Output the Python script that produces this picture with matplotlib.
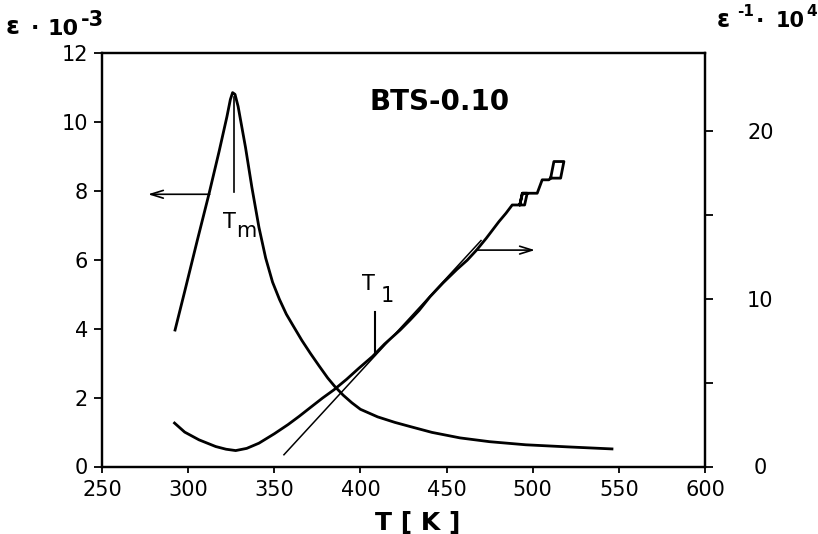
#! /usr/bin/env python3
import matplotlib
matplotlib.use("Agg")
import matplotlib.pyplot as plt

W, H = 818, 534

# permittivity eps * 1E-03 (left axis)
T_eps = [292.4, 298.0, 305.3, 312.1, 318.0, 322.5, 324.5, 325.8, 327.2,
         329.0, 333.3, 337.0, 341.1, 345.0, 349.0, 353.0, 357.0, 361.0,
         366.0, 371.0, 376.0, 381.0, 385.0, 390.0, 395.0, 400.0, 410.0,
         420.0, 428.8, 441.5, 457.8, 475.0, 496.0, 520.0, 546.0]
eps = [3.96, 5.08, 6.56, 7.91, 9.15, 10.15, 10.65, 10.85, 10.80,
       10.45, 9.26, 8.10, 6.94, 6.05, 5.35, 4.85, 4.42, 4.08,
       3.66, 3.28, 2.92, 2.57, 2.33, 2.07, 1.85, 1.66, 1.44,
       1.28, 1.16, 0.99, 0.83, 0.72, 0.63, 0.57, 0.51]

# inverse permittivity 1/eps * 1E+04 (right axis)
T_inv = [292.1, 298.0, 306.3, 316.0, 322.0, 327.6, 334.0, 341.1, 350.0,
         358.0, 364.3, 372.0, 378.0, 384.6, 392.0, 399.0, 407.0, 414.0,
         423.0, 428.8, 434.0, 440.4, 448.0, 456.0, 462.0, 467.4, 473.0,
         480.4, 484.5, 488.1, 495.3, 496.8, 494.0, 492.5, 494.0, 502.6,
         505.5, 509.4, 510.4, 512.3, 518.1, 516.2, 510.4]
inv = [2.59, 2.05, 1.59, 1.19, 1.03, 0.95, 1.08, 1.39, 1.95,
       2.50, 2.98, 3.60, 4.08, 4.57, 5.20, 5.85, 6.56, 7.30,
       8.13, 8.73, 9.30, 10.12, 10.95, 11.75, 12.30, 12.90, 13.60,
       14.60, 15.10, 15.59, 15.59, 16.29, 16.29, 15.59, 16.29, 16.29,
       17.09, 17.09, 17.19, 18.18, 18.18, 17.19, 17.19]

# Curie-Weiss straight line
tan_T = [355.6, 470.0]
tan_inv = [0.70, 13.47]

# characteristic temperatures
Tm = 326.5
Tm_span = [7.97, 10.72]
T1 = 408.2
T1_span = [6.66, 9.24]

x_ticks = [250, 300, 350, 400, 450, 500, 550, 600]
y_ticks = [0, 2, 4, 6, 8, 10, 12]
y2_ticks = [0, 5, 10, 15, 20]
y2_labels = ["0", "", "10", "", "20"]


def px(x, y):
    return x / W, 1 - y / H


fig = plt.figure(figsize=(W / 100, H / 100), dpi=100)
ax = fig.add_axes([102 / W, 1 - 466.5 / H, 603 / W, 413.5 / H])
ax2 = ax.twinx()

ax.set_xlim(250, 600)
ax.set_ylim(0, 12)
ax2.set_ylim(0, 24.65)

for a in (ax, ax2):
    for s in a.spines.values():
        s.set_linewidth(1.6)

ax.set_xticks(x_ticks)
ax.set_yticks(y_ticks)
ax2.set_yticks(y2_ticks)
ax2.set_yticklabels(y2_labels)

ax.tick_params(axis="x", direction="out", length=4, width=1.3,
               labelsize=15, pad=5.5)
ax.tick_params(axis="y", direction="out", length=6, width=1.3,
               labelsize=15, pad=4)
ax2.tick_params(axis="y", direction="out", length=6, width=1.3,
                labelsize=15, pad=33.8)
for lab in ax2.get_yticklabels():
    lab.set_horizontalalignment("center")

# curves
ax.plot(T_eps, eps, color="black", lw=2.0, solid_joinstyle="round")
ax2.plot(T_inv, inv, color="black", lw=2.0, solid_joinstyle="round")
ax2.plot(tan_T, tan_inv, color="black", lw=1.1)

# Tm and T1 markers
ax.plot([Tm, Tm], Tm_span, color="black", lw=1.2)
ax.text(320.3, 6.92, "T", fontsize=15, va="baseline")
ax.text(327.8, 6.66, "m", fontsize=15, va="baseline")
ax2.plot([T1, T1], T1_span, color="black", lw=1.5)
ax2.text(400.7, 10.52, "T", fontsize=15, va="baseline")
ax2.text(411.5, 9.82, "1", fontsize=15, va="baseline")

# axis arrows
ax.annotate("", xy=(276.7, 7.9), xytext=(312.5, 7.9),
            arrowprops=dict(arrowstyle="->,head_length=0.9,head_width=0.28",
                            lw=1.2, color="black", shrinkA=0, shrinkB=0))
ax2.annotate("", xy=(501.3, 12.9), xytext=(467.4, 12.9),
             arrowprops=dict(arrowstyle="->,head_length=0.9,head_width=0.28",
                             lw=1.2, color="black", shrinkA=0, shrinkB=0))

ax.text(405.5, 10.35, "BTS-0.10", fontsize=20, fontweight="bold",
        va="baseline")

# axis titles
fig.text(*px(375, 530), "T [ K ]", fontsize=18, fontweight="bold",
         va="baseline")

fig.text(*px(6, 34), "ε", fontsize=18, fontweight="bold", va="baseline")
fig.text(*px(31, 34), "·", fontsize=16, fontweight="bold", va="baseline")
fig.text(*px(48, 35), "10", fontsize=16, fontweight="bold", va="baseline")
fig.text(*px(81, 26), "-3", fontsize=15, fontweight="bold", va="baseline")

fig.text(*px(717, 27), "ε", fontsize=17, fontweight="bold", va="baseline")
fig.text(*px(737, 16), "-1", fontsize=11, fontweight="bold", va="baseline")
fig.text(*px(756, 27), "·", fontsize=16, fontweight="bold", va="baseline")
fig.text(*px(776, 27), "10", fontsize=15, fontweight="bold", va="baseline")
fig.text(*px(806, 16), "4", fontsize=11, fontweight="bold", va="baseline")

fig.savefig("out.png", dpi=100)
